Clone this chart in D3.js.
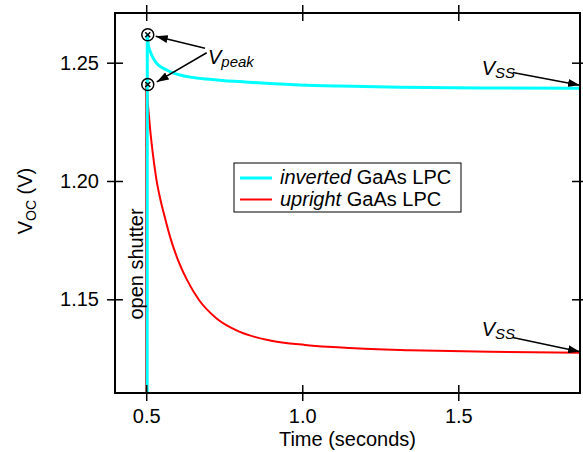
<!DOCTYPE html>
<html>
<head>
<meta charset="utf-8">
<script src="https://cdn.jsdelivr.net/npm/d3@7"></script>
<style>
  body { margin: 0; background: #fff; }
  svg text { font-family: "Liberation Sans", Arial, Helvetica, sans-serif; fill: #000; }
</style>
</head>
<body>
<div id="chart"></div>
<script>
// values
var xTicks = [0.5, 1.0, 1.5];
var yTicks = [1.15, 1.20, 1.25];

var invertedT = [0.503, 0.5035, 0.5067, 0.5122, 0.5176, 0.5250, 0.5336, 0.5474, 0.5657, 0.5858, 0.6083, 0.6467, 0.6938, 0.7429, 0.8005, 0.8967, 0.9928, 1.1210, 1.3132, 1.5696, 1.89];
var invertedV = [1.10, 1.2617, 1.2575, 1.2549, 1.2532, 1.2513, 1.2497, 1.2482, 1.2469, 1.2457, 1.2448, 1.2438, 1.2431, 1.2425, 1.2420, 1.2412, 1.2406, 1.2401, 1.2396, 1.2393, 1.2392];

var uprightT = [0.4995, 0.5, 0.5057, 0.5122, 0.5218, 0.5330, 0.5458, 0.5602, 0.5794, 0.6019, 0.6307, 0.6692, 0.7236, 0.8005, 0.8967, 1.0088, 1.1530, 1.3453, 1.6016, 1.89];
var uprightV = [1.10, 1.2410, 1.2321, 1.2224, 1.2110, 1.2004, 1.1920, 1.1844, 1.1751, 1.1666, 1.1582, 1.1497, 1.1421, 1.1362, 1.1326, 1.1307, 1.1294, 1.1285, 1.1278, 1.1274];

var peakT = [0.505, 0.505];
var peakV = [1.2618, 1.2408];

var width = 583, height = 452;
var margin = {top: 13, right: 3, bottom: 59, left: 115};

var svg = d3.select("#chart").append("svg")
    .attr("width", width)
    .attr("height", height);

var x = d3.scaleLinear()
    .domain([0.4, 1.89])
    .range([margin.left, width - margin.right]);

var y = d3.scaleLinear()
    .domain([1.1104, 1.271])
    .range([height - margin.bottom, margin.top]);

var defs = svg.append("defs");
defs.append("clipPath").attr("id", "plotClip")
  .append("rect")
    .attr("x", x.range()[0])
    .attr("y", y.range()[1])
    .attr("width", x.range()[1] - x.range()[0])
    .attr("height", y.range()[0] - y.range()[1]);

defs.append("marker")
    .attr("id", "arrow")
    .attr("viewBox", "0 0 12 8")
    .attr("refX", 12)
    .attr("refY", 4)
    .attr("markerWidth", 12)
    .attr("markerHeight", 8)
    .attr("markerUnits", "userSpaceOnUse")
    .attr("orient", "auto")
  .append("path")
    .attr("d", "M0,0 L12,4 L0,8 Z")
    .attr("fill", "#000");

// curves
var line = d3.line()
    .x(d => x(d[0]))
    .y(d => y(d[1]))
    .curve(d3.curveMonotoneX);

var plot = svg.append("g").attr("clip-path", "url(#plotClip)");

plot.append("path")
    .datum(d3.zip(uprightT, uprightV))
    .attr("fill", "none")
    .attr("stroke", "#ff0000")
    .attr("stroke-width", 2)
    .attr("d", line);

plot.append("path")
    .datum(d3.zip(invertedT, invertedV))
    .attr("fill", "none")
    .attr("stroke", "#00ffff")
    .attr("stroke-width", 3)
    .attr("d", line);

// frame
svg.append("rect")
    .attr("x", x.range()[0])
    .attr("y", y.range()[1])
    .attr("width", x.range()[1] - x.range()[0])
    .attr("height", y.range()[0] - y.range()[1])
    .attr("fill", "none")
    .attr("stroke", "#000")
    .attr("stroke-width", 2);

// axes, ticks crossing the frame on all four sides
function styleAxis(g) {
  g.select(".domain").remove();
  g.selectAll(".tick line").attr("stroke", "#000").attr("stroke-width", 1.5);
  g.selectAll(".tick text").style("font-size", "20px");
}

svg.append("g")
    .attr("transform", "translate(0," + (y.range()[0] - 8) + ")")
    .call(d3.axisBottom(x).tickValues(xTicks).tickSize(16).tickPadding(8).tickFormat(d3.format(".1f")))
    .call(styleAxis);

svg.append("g")
    .attr("transform", "translate(0," + (y.range()[1] - 8) + ")")
    .call(d3.axisBottom(x).tickValues(xTicks).tickSize(16).tickFormat(""))
    .call(styleAxis);

svg.append("g")
    .attr("transform", "translate(" + (x.range()[0] + 8) + ",0)")
    .call(d3.axisLeft(y).tickValues(yTicks).tickSize(16).tickPadding(8).tickFormat(d3.format(".2f")))
    .call(styleAxis);

svg.append("g")
    .attr("transform", "translate(" + (x.range()[1] + 8) + ",0)")
    .call(d3.axisLeft(y).tickValues(yTicks).tickSize(16).tickFormat(""))
    .call(styleAxis);

// axis titles
svg.append("text")
    .attr("x", (x.range()[0] + x.range()[1]) / 2)
    .attr("y", 446)
    .attr("text-anchor", "middle")
    .style("font-size", "20px")
    .text("Time (seconds)");

var yTitle = svg.append("text")
    .attr("transform", "translate(32,201) rotate(-90)")
    .attr("text-anchor", "middle")
    .style("font-size", "20px");
yTitle.append("tspan").text("V");
yTitle.append("tspan").attr("dy", 4).style("font-size", "14px").text("OC");
yTitle.append("tspan").attr("dy", -4).text(" (V)");

svg.append("text")
    .attr("transform", "translate(" + (x(0.5) - 3) + ",264) rotate(-90)")
    .attr("text-anchor", "middle")
    .style("font-size", "20px")
    .text("open shutter");

// peak markers
var peaks = svg.append("g").selectAll("g")
    .data(d3.zip(peakT, peakV))
    .enter().append("g")
    .attr("transform", d => "translate(" + x(d[0]) + "," + y(d[1]) + ")");
peaks.append("circle").attr("r", 6).attr("fill", "none").attr("stroke", "#000").attr("stroke-width", 1.5);
peaks.append("path").attr("d", "M-2.5,-2.5L2.5,2.5M-2.5,2.5L2.5,-2.5").attr("stroke", "#000").attr("stroke-width", 1.5);

// annotations
function arrow(x1, y1, x2, y2) {
  svg.append("line")
      .attr("x1", x1).attr("y1", y1)
      .attr("x2", x2).attr("y2", y2)
      .attr("stroke", "#000")
      .attr("stroke-width", 1.5)
      .attr("marker-end", "url(#arrow)");
}

function label(px, py, main, sub) {
  var t = svg.append("text")
      .attr("x", px).attr("y", py)
      .style("font-size", "20px")
      .style("font-style", "italic");
  t.append("tspan").text(main);
  t.append("tspan").attr("dy", 3).style("font-size", "15px").text(sub);
}

label(x(0.698), y(1.2494), "V", "peak");
arrow(x(0.6884), y(1.2561), x(peakT[0]) + 8, y(peakV[0]) + 1.5);
arrow(x(0.6938), y(1.2542), x(peakT[1]) + 9, y(peakV[1]) - 2.5);

label(x(1.575), y(1.2448), "V", "SS");
label(x(1.575), y(1.1345), "V", "SS");
arrow(x(1.6744), y(1.2459), x.range()[1], y(1.2392) - 3);
arrow(x(1.6744), y(1.1339), x.range()[1], y(1.1274) - 1);

// legend
var legend = svg.append("g").attr("transform", "translate(234,163)");
legend.append("rect")
    .attr("width", 227).attr("height", 49)
    .attr("fill", "#fff").attr("stroke", "#000").attr("stroke-width", 1);
var legendItems = [
  {name: "inverted", color: "#00ffff", w: 3},
  {name: "upright", color: "#ff0000", w: 2}
];
legendItems.forEach(function(d, i) {
  var ly = 15 + i * 21.5;
  legend.append("line")
      .attr("x1", 6).attr("x2", 38).attr("y1", ly).attr("y2", ly)
      .attr("stroke", d.color).attr("stroke-width", d.w);
  var t = legend.append("text")
      .attr("x", 46).attr("y", ly + 6)
      .style("font-size", "20px");
  t.append("tspan").style("font-style", "italic").text(d.name);
  t.append("tspan").text(" GaAs LPC");
});
</script>
</body>
</html>
